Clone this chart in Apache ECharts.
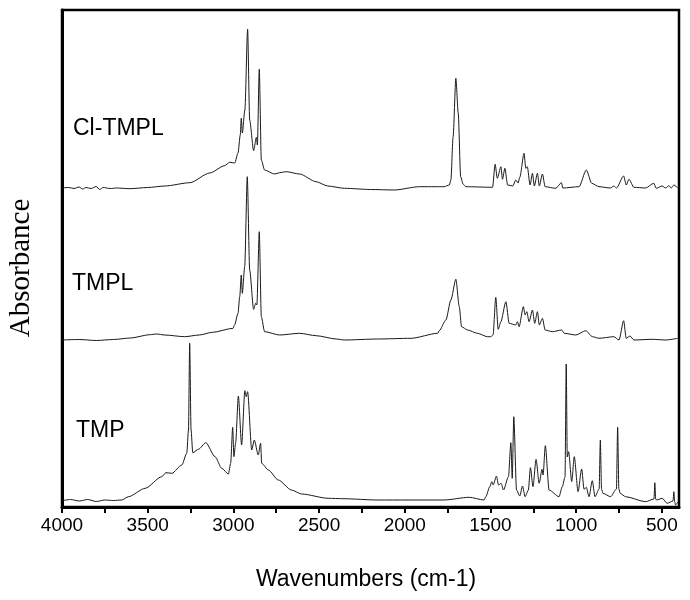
<!DOCTYPE html>
<html>
<head>
<meta charset="utf-8">
<script src="https://cdn.jsdelivr.net/npm/echarts@6/dist/echarts.min.js"></script>
<style>html,body{margin:0;padding:0;background:#fff;}#c{width:690px;height:600px;}</style>
</head>
<body>
<div id="c"></div>
<script>
// Wavenumber tick labels and minor ticks
var labelTicks = [500, 1000, 1500, 2000, 2500, 3000, 3500, 4000];
var minorTicks = [500, 750, 1000, 1250, 1500, 1750, 2000, 2250, 2500, 2750, 3000, 3250, 3500, 3750, 4000];
var seriesNames = ['Cl-TMPL', 'TMPL', 'TMP'];

// Offset absorbance (arbitrary units)
var clTmplWn = [4000,3960,3930,3900,3880,3860,3830,3800,3780,3760,3720,3680,3604,3500,3400,3254,3138,3051,3022,2992,2973,2960,2954,2948,2933,2917,2905,2882,2866,2860,2849,2837,2818,2760,2730,2692,2614,2517,2450,2352,2200,2061,1915,1770,1740,1731,1718,1702,1688,1674,1660,1645,1488,1473,1460,1439,1430,1416,1400,1370,1352,1339,1329,1304,1294,1285,1269,1255,1244,1226,1215,1197,1181,1119,1086,1078,983,941,909,867,800,780,765,723,708,692,663,595,547,533,498,478,459,445,430,407];
var clTmplAbs = [319,319.5,318.5,320,318,319.5,318.5,320.5,317.5,319.5,318.5,319,318.3,319.5,321,324.3,334,341.3,344.7,344,354,372,388.7,374,397,477.7,387,356.3,369.7,362,437.7,347,337,333,334.3,335.3,333,325.3,321,318.7,317.5,317,320.3,320.3,322,327,370.3,428.7,393.7,330.3,323,320.3,319.7,342.7,328.7,340.3,327.7,338.7,322,321,327,324,329.7,353.7,338.7,340.3,322,333.7,321,333.7,321,333,320.3,318.7,324.3,319,320.3,337,323.7,320.3,319,321,319,331,322,327.7,319.7,319,323.7,318.7,321,319,321.3,319,322,319];

var tmplWn = [4000,3900,3800,3700,3600,3488,3449,3400,3284,3200,3121,3002,2993,2973,2963,2954,2948,2934,2919,2905,2882,2870,2863,2849,2837,2818,2730,2614,2517,2400,2352,2160,1963,1808,1799,1760,1731,1702,1682,1669,1634,1576,1518,1498,1485,1469,1455,1440,1410,1391,1352,1343,1333,1308,1298,1288,1275,1255,1242,1226,1215,1197,1181,1139,1084,1070,1002,944,905,867,780,750,723,708,686,663,557,478,407];
var tmplAbs = [167,167.5,166.5,167.5,169,172.3,173,172,170.3,172,174.7,178.7,182,193.7,210.3,232,213.7,240.3,330.3,237,197.7,203.7,202,275.3,190.3,175.3,172,173.7,171.3,168,167,168,168.7,173.7,176.3,187,207,227.7,200.3,180.3,177,173.7,170.3,170.3,172,209.7,177.7,185,205.3,183.7,182,185.3,180.3,200.3,192,195.3,185.3,197,183.7,195.3,182,188.7,177,175.3,177,173.7,172,176.3,170.3,168.7,170.3,167,186.3,168.7,171,167,167.7,167,168.7];

var tmpWn = [4000,3950,3900,3850,3800,3750,3700,3651,3612,3515,3418,3394,3359,3301,3272,3262,3255,3247,3237,3204,3161,3107,3068,3029,3016,3004,2997,2987,2971,2952,2933,2925,2917,2893,2878,2855,2841,2835,2796,2738,2661,2602,2447,2360,2160,1770,1624,1537,1527,1504,1492,1484,1465,1453,1438,1424,1395,1381,1373,1364,1348,1329,1313,1298,1279,1267,1252,1234,1216,1199,1193,1180,1158,1100,1081,1065,1058,1052,1044,1026,1011,989,968,954,941,925,906,890,866,859,852,844,799,765,758,751,743,712,595,546,541,536,531,498,469,435,430,425,420,407];
var tmpAbs = [6.3,7.5,6,7.5,5.5,7,6.5,7,10.3,18.7,30.3,34.3,33.7,42,53.7,77,163.7,77,54.3,57.7,64.3,50.3,38.7,33,43.7,79.7,50.3,63.7,111,62,116.3,110.3,115.3,57,67,52,63.7,43.7,37,27,17,13,8.7,8.3,7,7,9.7,7,10.3,20.3,25.3,22,31,22,23.7,17,30.3,64.3,28.7,90.3,17,11,21,10.3,17,39.3,20.3,47.7,23.7,37.7,32,61.3,17,10.3,20.3,30,143,50,55.3,25.3,50.3,15.3,38,17.7,19.7,10.3,26.3,10.3,18,67,18,13.7,10.3,18,79.7,18,13.7,10.3,5.3,8,24.3,8,7,8.7,3.7,6,15.3,5,2,5];

function pairs(wn, ab) { return wn.map(function (w, i) { return [w, ab[i]]; }); }

var chart = echarts.init(document.getElementById('c'), null, {renderer: 'canvas'});
var lineStyle = {color: '#1a1a1a', width: 1};
var fontSans = 'Arial, "Liberation Sans", Helvetica, sans-serif';

function mkSeries(i, wn, ab) {
  return {name: seriesNames[i], type: 'line', data: pairs(wn, ab), showSymbol: false,
    smooth: 0.25, smoothMonotone: 'x', lineStyle: lineStyle};
}

chart.setOption({
  animation: false,
  backgroundColor: '#fff',
  grid: {left: 62, right: 11, top: 10, bottom: 93, show: true, borderColor: '#000', borderWidth: 2.5, backgroundColor: 'transparent'},
  xAxis: {
    type: 'value', inverse: true, min: 400, max: 4000,
    splitLine: {show: false},
    axisLine: {lineStyle: {color: '#000', width: 3}},
    axisTick: {show: true, inside: false, length: 6, lineStyle: {color: '#000', width: 2}, customValues: minorTicks},
    axisLabel: {color: '#000', fontSize: 19, fontFamily: fontSans, margin: 9, customValues: labelTicks,
      formatter: function (v) { return String(v); }}
  },
  yAxis: {
    type: 'value', min: 0, max: 497,
    splitLine: {show: false},
    axisLine: {show: true, lineStyle: {color: '#000', width: 3}},
    axisTick: {show: false},
    axisLabel: {show: false}
  },
  series: [
    mkSeries(0, clTmplWn, clTmplAbs),
    mkSeries(1, tmplWn, tmplAbs),
    mkSeries(2, tmpWn, tmpAbs)
  ],
  graphic: [
    {type: 'text', left: 73, top: 117, style: {text: seriesNames[0], fontSize: 23, fontFamily: fontSans, fill: '#000'}},
    {type: 'text', left: 72, top: 272, style: {text: seriesNames[1], fontSize: 23, fontFamily: fontSans, fill: '#000'}},
    {type: 'text', left: 76, top: 419, style: {text: seriesNames[2], fontSize: 23, fontFamily: fontSans, fill: '#000'}},
    {type: 'text', x: 21, y: 268, rotation: Math.PI / 2,
      style: {text: 'Absorbance', fontSize: 29, fontFamily: '"Liberation Serif", "Times New Roman", serif', fill: '#000', align: 'center', verticalAlign: 'middle'}},
    {type: 'text', x: 366, y: 580,
      style: {text: 'Wavenumbers (cm-1)', fontSize: 23, fontFamily: fontSans, fill: '#000', align: 'center', verticalAlign: 'middle'}}
  ]
});
</script>
</body>
</html>
